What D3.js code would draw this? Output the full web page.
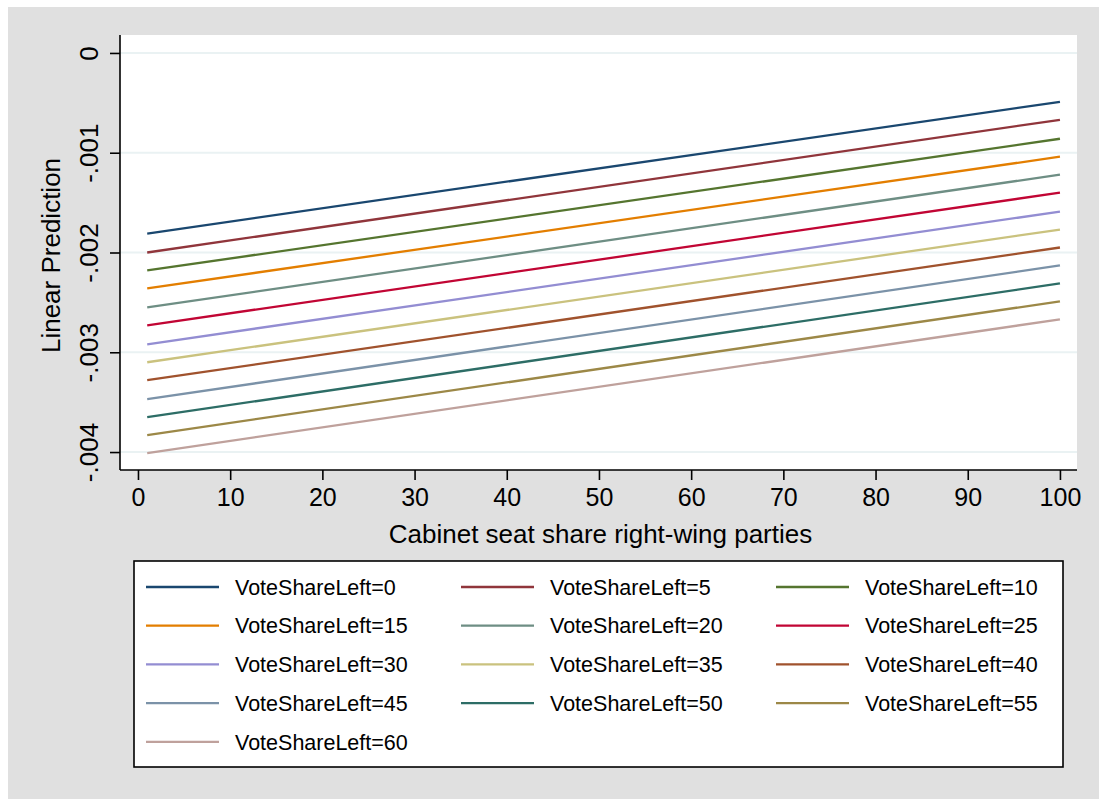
<!DOCTYPE html>
<html>
<head>
<meta charset="utf-8">
<script src="https://cdn.jsdelivr.net/npm/d3@7"></script>
<style>
  body { margin: 0; background: #fff; }
  svg { display: block; font-family: "Liberation Sans", Arial, sans-serif; }
</style>
</head>
<body>
<svg id="chart" width="1099" height="799"></svg>
<script>
// VoteShareLeft levels, with predicted values at seat share 1 and 100
const voteShares = [0, 5, 10, 15, 20, 25, 30, 35, 40, 45, 50, 55, 60]
const seatShares = [1, 100]
const predAtStart = [-0.00181, -0.00200, -0.00218, -0.00236, -0.00255, -0.00273, -0.00292,
  -0.00310, -0.00328, -0.00347, -0.00365, -0.00383, -0.00401]
const predAtEnd = [-0.00049, -0.00067, -0.00086, -0.00104, -0.00122, -0.00140, -0.00159,
  -0.00177, -0.00195, -0.00213, -0.00231, -0.00249, -0.00267]
const xTicks = [0, 10, 20, 30, 40, 50, 60, 70, 80, 90, 100]
const yTicks = [0, -0.001, -0.002, -0.003, -0.004]
const yTickLabels = ['0', '-.001', '-.002', '-.003', '-.004']

// stata s2color order
const colors = ['#1a476f', '#90353b', '#55752f', '#e37e00', '#6e8e84', '#c10534',
  '#938dd2', '#cac27e', '#a0522d', '#7b92a8', '#2d6d66', '#9c8847', '#bfa19c']

const svg = d3.select('#chart')

svg.append('rect')
  .attr('x', 8).attr('y', 7)
  .attr('width', 1091).attr('height', 792)
  .attr('fill', '#e0e0e0')

const plot = { left: 120, right: 1077, top: 35, bottom: 470 }

const x = d3.scaleLinear()
  .domain([-1.95, 101.85])
  .range([plot.left, plot.right])

const y = d3.scaleLinear()
  .domain([-0.00418, 0.00018])
  .range([plot.bottom, plot.top])

svg.append('rect')
  .attr('x', plot.left).attr('y', plot.top)
  .attr('width', plot.right - plot.left).attr('height', plot.bottom - plot.top)
  .attr('fill', '#fff')

// gridlines
svg.append('g')
  .selectAll('line')
  .data(yTicks)
  .join('line')
  .attr('x1', plot.left).attr('x2', plot.right)
  .attr('y1', d => y(d)).attr('y2', d => y(d))
  .attr('stroke', '#eaf2f3')
  .attr('stroke-width', 2)

// series
const series = voteShares.map((v, i) => ({
  vote: v,
  color: colors[i],
  points: [[seatShares[0], predAtStart[i]], [seatShares[1], predAtEnd[i]]],
}))

const line = d3.line().x(d => x(d[0])).y(d => y(d[1]))

svg.append('g')
  .selectAll('path')
  .data(series)
  .join('path')
  .attr('d', d => line(d.points))
  .attr('fill', 'none')
  .attr('stroke', d => d.color)
  .attr('stroke-width', 2.3)

// axes
const xAxis = svg.append('g')
  .attr('transform', `translate(0,${ plot.bottom })`)
  .call(d3.axisBottom(x).tickValues(xTicks).tickSize(10).tickPadding(8).tickSizeOuter(0))
xAxis.select('.domain').attr('stroke', '#000').attr('stroke-width', 1.6)
  .attr('d', `M${ plot.left },0H${ plot.right }`)
xAxis.selectAll('.tick line').attr('stroke', '#000').attr('stroke-width', 1.6)
xAxis.selectAll('.tick text')
  .attr('font-size', 25).attr('fill', '#000')
  .attr('font-family', '"Liberation Sans", Arial, sans-serif')

const yAxis = svg.append('g')
  .attr('transform', `translate(${ plot.left },0)`)
  .call(d3.axisLeft(y).tickValues(yTicks).tickSize(10).tickFormat((d, i) => yTickLabels[i]).tickSizeOuter(0))
yAxis.select('.domain').attr('stroke', '#000').attr('stroke-width', 1.6)
  .attr('d', `M0,${ plot.top }V${ plot.bottom }`)
yAxis.selectAll('.tick line').attr('stroke', '#000').attr('stroke-width', 1.6)
yAxis.selectAll('.tick text')
  .attr('font-size', 26).attr('fill', '#000')
  .attr('font-family', '"Liberation Sans", Arial, sans-serif')
  .attr('text-anchor', 'middle')
  .attr('dy', 0)
  .attr('x', 0)
  .attr('transform', 'translate(-22,0) rotate(-90)')

// axis titles
svg.append('text')
  .attr('x', (plot.left + plot.right) / 2 + 2)
  .attr('y', 543)
  .attr('text-anchor', 'middle')
  .attr('font-size', 26)
  .text('Cabinet seat share right-wing parties')

svg.append('text')
  .attr('transform', `translate(60,${ (plot.top + plot.bottom) / 2 + 3 }) rotate(-90)`)
  .attr('text-anchor', 'middle')
  .attr('font-size', 26)
  .text('Linear Prediction')

// legend
const legend = { left: 134, top: 561, right: 1063, bottom: 767 }
svg.append('rect')
  .attr('x', legend.left).attr('y', legend.top)
  .attr('width', legend.right - legend.left).attr('height', legend.bottom - legend.top)
  .attr('fill', '#fff')
  .attr('stroke', '#000')
  .attr('stroke-width', 1.6)

const items = svg.append('g')
  .selectAll('g')
  .data(series)
  .join('g')
  .attr('transform', (d, i) => `translate(${ 146 + (i % 3) * 315 },${ 587 + Math.floor(i / 3) * 38.7 })`)

items.append('line')
  .attr('x1', 0).attr('x2', 73)
  .attr('stroke', d => d.color)
  .attr('stroke-width', 2.3)

items.append('text')
  .attr('x', 89)
  .attr('dy', '0.36em')
  .attr('font-size', 21.5)
  .text(d => `VoteShareLeft=${ d.vote }`)
</script>
</body>
</html>
